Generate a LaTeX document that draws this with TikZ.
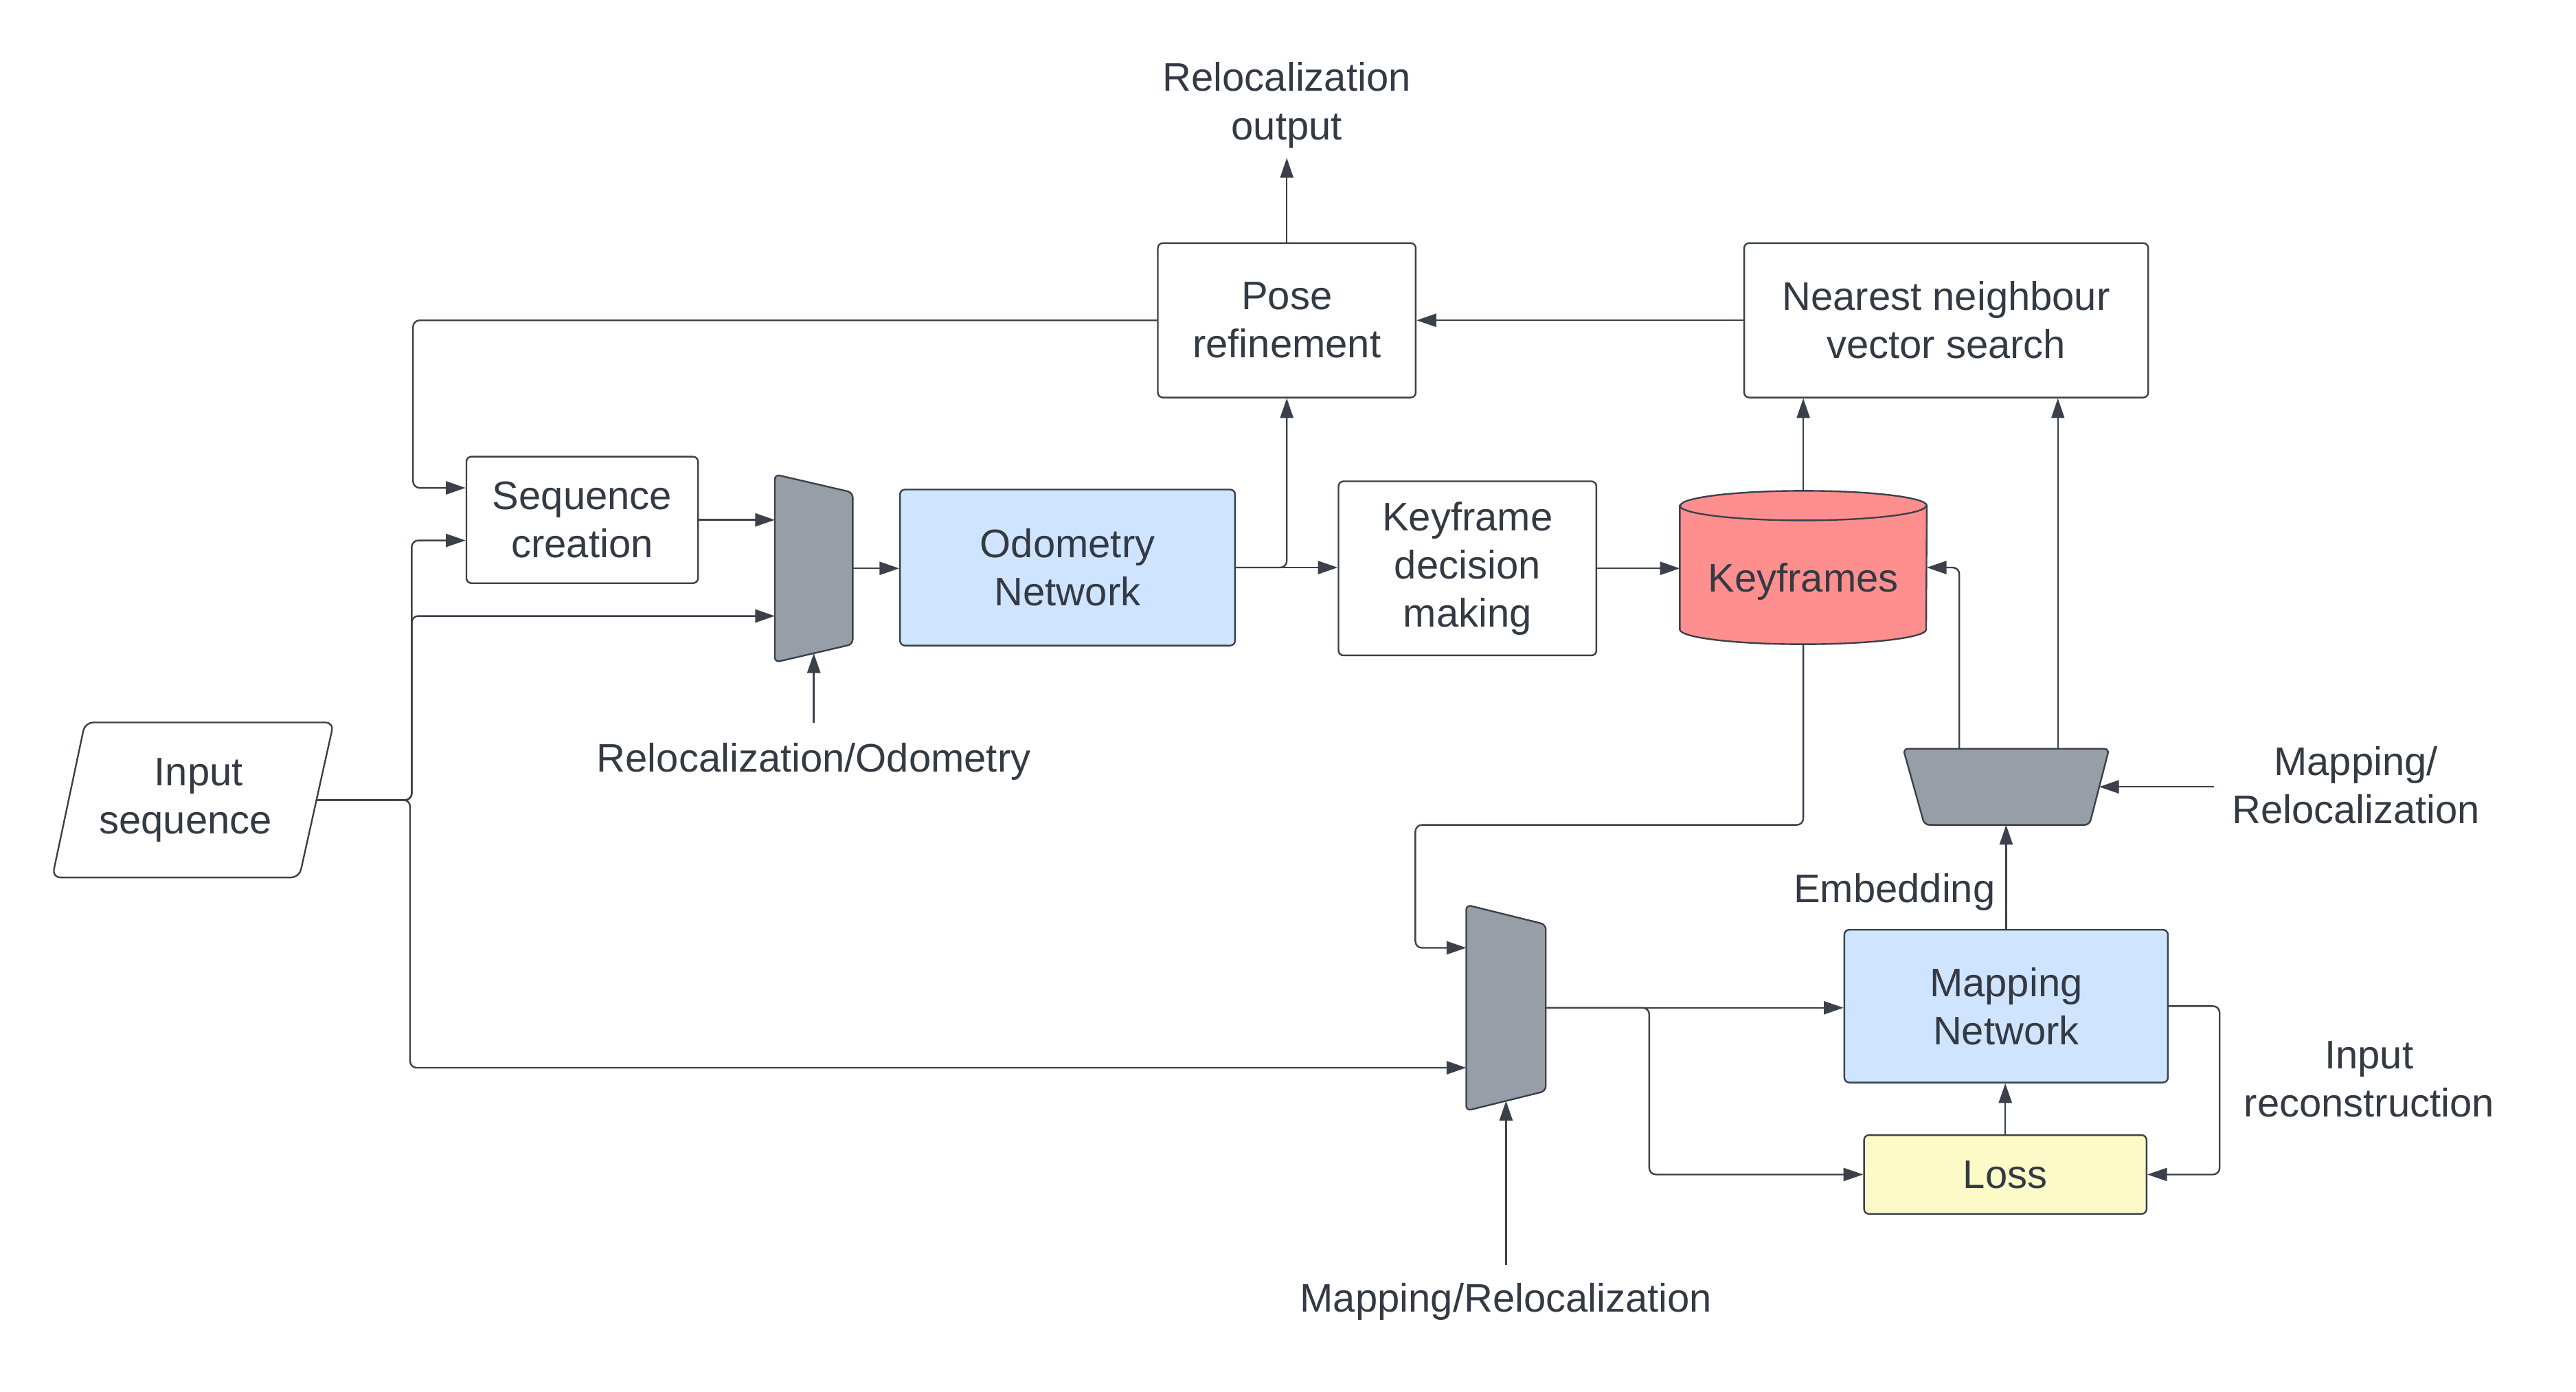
\documentclass[tikz,border=0pt]{standalone}
\usepackage{fontspec}
\setmainfont{Liberation Sans}
\usetikzlibrary{arrows.meta,calc}
\definecolor{linec}{HTML}{3A414A}
\definecolor{textc}{HTML}{333A44}
\definecolor{grayf}{HTML}{979EA8}
\definecolor{bluef}{HTML}{CFE4FF}
\definecolor{redf}{HTML}{FF8F8F}
\definecolor{yellowf}{HTML}{FCFBC8}
\begin{document}
\begin{tikzpicture}[x=1pt,y=-1pt,
  font=\fontsize{24.25}{29.3}\selectfont, text=textc,
  box/.style={draw=linec, line width=1pt, rounded corners=3pt, align=center, inner sep=0pt},
  lbl/.style={align=center, inner sep=0pt},
  hole/.style={inner sep=0pt, draw=none},
  shp/.style={draw=linec, line width=1pt, fill=grayf, rounded corners=3pt},
  conn/.style={draw=linec, line width=1pt, rounded corners=4pt},
  arr/.style={conn, -{Triangle[length=12pt,width=8pt]}},
  thin/.style={line width=0.7pt}
]
\useasboundingbox (0,0) rectangle (1568.5,847.4);

% boxes
\node[box, minimum width=157pt, minimum height=94pt] (pose) at (783.5,195) {Pose\\refinement};
\node[box, minimum width=246pt, minimum height=94pt] (nn) at (1185,195) {Nearest neighbour\\vector search};
\node[box, minimum width=141pt, minimum height=77pt] (seq) at (354.5,316.5) {Sequence\\creation};
\node[box, fill=bluef, minimum width=204pt, minimum height=95pt] (odo) at (650,345.5) {Odometry\\Network};
\node[box, minimum width=157pt, minimum height=106pt] (kdm) at (893.5,346) {Keyframe\\decision\\making};
\node[box, fill=bluef, minimum width=197pt, minimum height=93pt] (map) at (1221.5,612.5) {Mapping\\Network};
\node[box, fill=yellowf, minimum width=172pt, minimum height=48pt] (loss) at (1221,715) {Loss};

% keyframes cylinder
\node[hole, minimum width=150pt, minimum height=93pt] (kf) at (1098,345.5) {};
\draw[draw=linec, line width=1pt, fill=redf]
  ($(kf.north west)+(0,9)$) -- ($(kf.south west)+(0,-9)$)
  arc[start angle=180, end angle=360, x radius=75pt, y radius=9pt]
  -- ($(kf.north east)+(0,9)$)
  arc[start angle=0, end angle=180, x radius=75pt, y radius=9pt] -- cycle;
\draw[draw=linec, line width=1pt] ($(kf.north west)+(0,9)$)
  arc[start angle=180, end angle=360, x radius=75pt, y radius=9pt];
\node[lbl] (kftxt) at (1098,354) {Keyframes};

% input parallelogram
\node[hole, minimum width=171pt, minimum height=94pt, align=center] (inp) at (117.5,487)
  {\hspace*{7pt}Input\\sequence\hspace*{9pt}};
\draw[draw=linec, line width=1pt, rounded corners=5pt]
  ($(inp.north west)+(20,0)$) -- (inp.north east) -- ($(inp.south east)+(-21,0)$)
  -- (inp.south west) -- cycle;
\coordinate (inpout) at ($(inp.east)+(-10.5,0)$);

% trapezoids
\node[hole, minimum width=47pt, minimum height=114pt] (t1) at (495.5,346) {};
\draw[shp] (t1.north west) -- ($(t1.north east)+(0,11)$) -- ($(t1.south east)+(0,-11)$) -- (t1.south west) -- cycle;
\node[hole, minimum width=48pt, minimum height=125pt] (t2) at (917,613.5) {};
\draw[shp] (t2.north west) -- ($(t2.north east)+(0,12)$) -- ($(t2.south east)+(0,-12)$) -- (t2.south west) -- cycle;
\node[hole, minimum width=125pt, minimum height=46pt] (t3) at (1221.5,479) {};
\draw[shp] (t3.north west) -- (t3.north east) -- ($(t3.south east)+(-12,0)$) -- ($(t3.south west)+(13,0)$) -- cycle;

% labels
\node[lbl] (relout) at (783.5,64) {Relocalization\\output};
\node[lbl] (lblro) at (495.5,463.5) {Relocalization/Odometry};
\node[lbl] (lblmr) at (917,792.5) {Mapping/Relocalization};
\node[lbl] (lblmr2) at (1434.5,478) {Mapping/\\Relocalization};
\node[lbl] (emb) at (1153.5,543) {Embedding};
\node[lbl] (irec) at (1442.5,657) {Input\\reconstruction};

% connectors
\draw[arr, thin] (pose.north) -- ([yshift=-6pt]relout.south);
\draw[arr] (nn.west) -- (pose.east);
\draw[arr] (pose.west) -| ($(seq.west)+(-32,-19.5)$) -- ($(seq.west)+(0,-19.5)$);

\draw[arr] (inpout) -- ($(inpout)+(58,0)$) |- ($(seq.west)+(0,12.5)$);
\draw[arr] (inpout) -- ($(inpout)+(58,0)$) |- ($(t1.west)+(0,29)$);
\draw[arr] (inpout) -- ($(inpout)+(57,0)$) |- ($(t2.west)+(0,36.5)$);

\draw[arr] (seq.east) -- (seq.east -| t1.west);
\draw[arr] (t1.east) -- (t1.east -| odo.west);
\draw[arr] (odo.east) -- (odo.east -| kdm.west);
\draw[arr] (odo.east) -| (pose.south);
\draw[arr] (kdm.east) -- (kdm.east -| kf.west);
\draw[arr] (kf.north) -- (kf.north |- nn.south);
\draw[arr] ($(t3.north)+(-28.5,0)$) |- (kf.east);
\draw[arr, thin] ($(t3.north)+(31.5,0)$) -- ($(nn.south)+(68,0)$);
\draw[arr] (map.north) -- (t3.south);
\draw[arr] (kf.south) -- ($(kf.south)+(0,110)$) -| ($(t2.west)+(-31,-36.5)$) -- ($(t2.west)+(0,-36.5)$);

\draw[arr] (t2.east) -- (t2.east -| map.west);
\draw[arr] (t2.east) -- ($(t2.east)+(63,0)$) |- (loss.west);
\draw[arr] (loss.north) -- (loss.north |- map.south);
\draw[arr] (map.east) -- ++(31,0) |- (loss.east);

\draw[arr] ([yshift=12pt]lblro.north) -- ($(t1.south)+(0,-5.5)$);
\draw[arr] ([yshift=11pt]lblmr.north) -- ($(t2.south)+(0,-6)$);
\draw[arr] ($(t3.east)+(64,0)$) -- ($(t3.east)+(-6,0)$);
\end{tikzpicture}
\end{document}
